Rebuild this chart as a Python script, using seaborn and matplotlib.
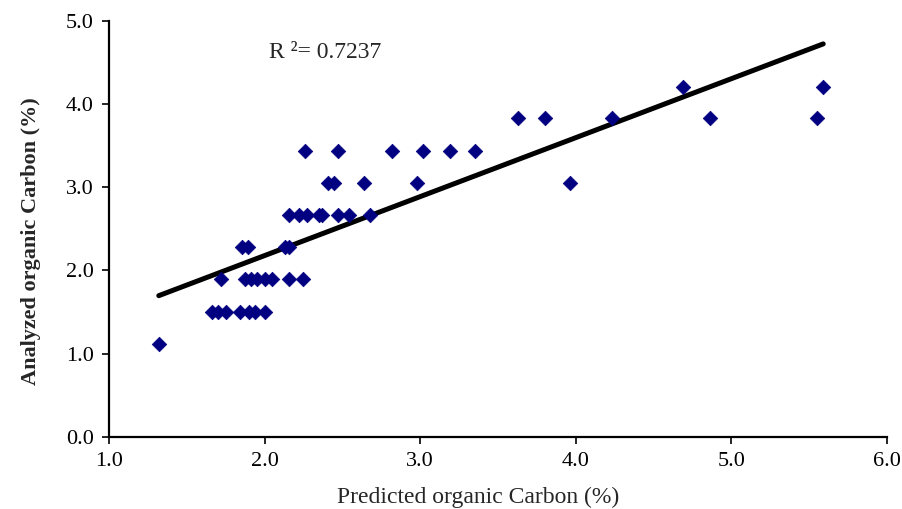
import matplotlib
matplotlib.use("Agg")
import matplotlib.pyplot as plt
import numpy as np
import pandas as pd
import seaborn as sns

# values, grouped by analyzed level
analyzed_levels = [1.12, 1.50, 1.90, 2.28, 2.67, 3.05, 3.44, 3.83, 4.21]
predicted_by_level = [
    [1.32],
    [1.66, 1.70, 1.75, 1.84, 1.90, 1.94, 2.00],
    [1.72, 1.876, 1.91, 1.95, 2.00, 2.05, 2.16, 2.25],
    [1.857, 1.895, 2.13, 2.157],
    [2.16, 2.22, 2.27, 2.35, 2.37, 2.47, 2.54, 2.675],
    [2.41, 2.445, 2.64, 2.98, 3.96],
    [2.26, 2.47, 2.82, 3.02, 3.19, 3.35],
    [3.63, 3.80, 4.23, 4.86, 5.55],
    [4.69, 5.59],
]
r2_label = "R \u00b2= 0.7237"
x_ticks = [1.0, 2.0, 3.0, 4.0, 5.0, 6.0]
y_ticks = [0.0, 1.0, 2.0, 3.0, 4.0, 5.0]

rows = []
for lvl, preds in zip(analyzed_levels, predicted_by_level):
    for p in preds:
        rows.append({"predicted": p, "analyzed": lvl})
df = pd.DataFrame(rows)

sns.set_style("ticks")
plt.rcParams['font.family'] = ['Liberation Serif', 'DejaVu Serif']

fig = plt.figure(figsize=(9.03, 5.09), dpi=100)
ax = fig.add_axes([0.1207, 0.142, 0.8616, 0.817])

sns.regplot(data=df, x="predicted", y="analyzed", scatter=False, ci=None,
            color="black", line_kws={"linewidth": 3.6}, ax=ax)
sns.scatterplot(data=df, x="predicted", y="analyzed", marker="D", s=55,
                color="#000080", edgecolor="#000080", linewidth=0.5, ax=ax, zorder=3)

ax.text(2.03, 4.62, r2_label, fontsize=17, ha="left", va="center")

ax.set_xlim(1.0, 6.0)
ax.set_ylim(0.0, 5.0)
ax.set_xticks(x_ticks)
ax.set_yticks(y_ticks)
ax.set_xticklabels([f"{v:.1f}" for v in x_ticks], fontsize=16)
ax.set_yticklabels([f"{v:.1f}" for v in y_ticks], fontsize=16)
ax.set_xlabel("Predicted organic Carbon (%)", fontsize=17)
ax.set_ylabel("Analyzed organic Carbon (%)", fontsize=16, fontweight="bold")
ax.xaxis.set_label_coords(0.474, -0.12)
ax.yaxis.set_label_coords(-0.088, 0.47)
ax.tick_params(direction="out", length=5, width=1.2, colors="black", pad=6)
sns.despine(ax=ax)
for s in ["left", "bottom"]:
    ax.spines[s].set_linewidth(1.6)
    ax.spines[s].set_color("black")

fig.savefig("out.png", dpi=100)
